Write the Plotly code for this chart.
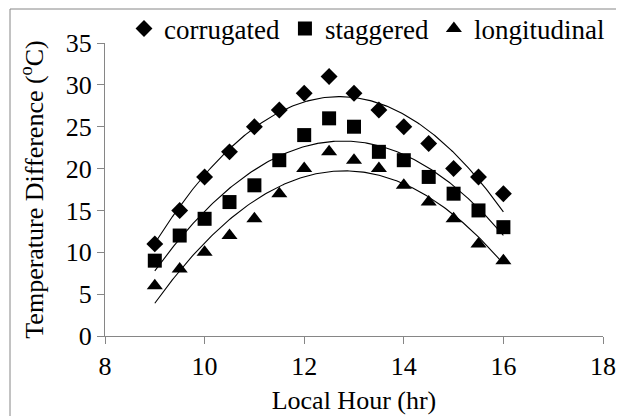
import numpy as np
import plotly.graph_objects as go

hours = [9, 9.5, 10, 10.5, 11, 11.5, 12, 12.5, 13, 13.5, 14, 14.5, 15, 15.5, 16]
corrugated = [11, 15, 19, 22, 25, 27, 29, 31, 29, 27, 25, 23, 20, 19, 17]
staggered = [9, 12, 14, 16, 18, 21, 24, 26, 25, 22, 21, 19, 17, 15, 13]
longitudinal = [6, 8, 10, 12, 14, 17, 20, 22, 21, 20, 18, 16, 14, 11, 9]
x_ticks = [8, 10, 12, 14, 16, 18]
y_ticks = [0, 5, 10, 15, 20, 25, 30, 35]

series = [
    ("corrugated", corrugated, "diamond", 13),
    ("staggered", staggered, "square", 14),
    ("longitudinal", longitudinal, "triangle-up", 14),
]

FONT = "Liberation Serif"
fig = go.Figure()

xs = np.linspace(min(hours), max(hours), 200)
for name, vals, sym, sz in series:
    fig.add_trace(go.Scatter(
        x=hours, y=vals, mode="markers", name=name,
        marker=dict(symbol=sym, size=sz, color="black", line=dict(width=0)),
    ))
    coef = np.polyfit(hours, vals, 2)
    fig.add_trace(go.Scatter(
        x=xs, y=np.polyval(coef, xs), mode="lines", showlegend=False,
        line=dict(color="black", width=1.1), hoverinfo="skip",
    ))

# page body has an 8px margin, so the figure is drawn at (8, 8)
OFF = 8
W, H = 616, 408
L, R, T, B = 97, 21, 35, 80
pw, ph = W - L - R, H - T - B

def px2x(px):
    return (px - OFF - L) / pw

def py2y(py):
    return (H - B - (py - OFF)) / ph

fig.add_shape(type="rect", xref="paper", yref="paper",
              x0=px2x(10), x1=px2x(660), y0=py2y(460), y1=py2y(9),
              line=dict(color="#868686", width=1), fillcolor="rgba(0,0,0,0)", layer="below")

axis_common = dict(
    showgrid=False, zeroline=False, showline=True, linecolor="#868686", linewidth=1,
    ticks="outside", tickcolor="#868686", ticklen=7, tickwidth=1,
    tickfont=dict(family=FONT, size=26, color="black"),
)

fig.update_layout(
    width=W, height=H,
    margin=dict(l=L, r=R, t=T, b=B, autoexpand=False),
    paper_bgcolor="white", plot_bgcolor="white",
    font=dict(family=FONT, size=26, color="black"),
    xaxis=dict(range=[8, 18], tickvals=x_ticks, **axis_common,
               title=dict(text="Local Hour (hr)", font=dict(family=FONT, size=26), standoff=10)),
    yaxis=dict(range=[0, 35], tickvals=y_ticks, **axis_common,
               title=dict(text="Temperature Difference (<sup>o</sup>C)", font=dict(family=FONT, size=26), standoff=14)),
    legend=dict(orientation="h", x=px2x(124), y=py2y(29), xanchor="left", yanchor="middle",
                font=dict(family=FONT, size=27), bgcolor="rgba(0,0,0,0)",
                itemwidth=30, tracegroupgap=0),
    showlegend=True,
)

fig.write_html("out.html")
